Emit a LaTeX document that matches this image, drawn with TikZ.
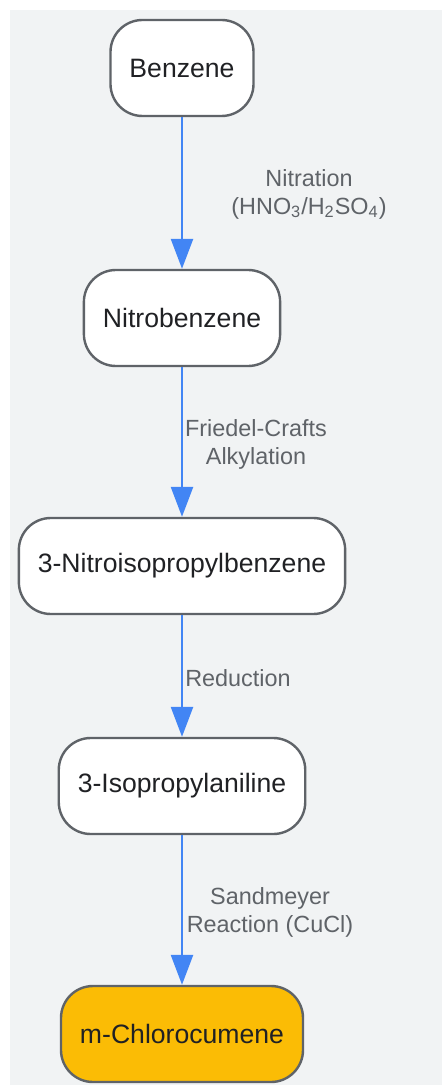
\documentclass[tikz,border=0pt]{standalone}
\usepackage{fontspec}
\setmainfont{Liberation Sans}
\usetikzlibrary{arrows.meta}
\definecolor{panel}{HTML}{F1F3F4}
\definecolor{edgeblue}{HTML}{4285F4}
\definecolor{boxline}{HTML}{5F6368}
\definecolor{boxtext}{HTML}{202124}
\definecolor{labeltext}{HTML}{5F6368}
\definecolor{goal}{HTML}{FBBC05}
\begin{document}
\begin{tikzpicture}[x=0.5pt, y=0.5pt,
  compound/.style={draw=boxline, line width=1.2pt, fill=white, rounded corners=16pt,
    minimum height=48pt, inner xsep=9.5pt, text=boxtext,
    font=\fontsize{13.3}{15}\selectfont},
  target/.style={compound, fill=goal},
  reagent/.style={text=labeltext, align=center,
    font=\fontsize{11.7}{14}\selectfont},
  step arrow/.style={-{Triangle[length=15pt, width=11pt]}, draw=edgeblue,
    fill=edgeblue, line width=1.3pt}]

\useasboundingbox (0,0) rectangle (442,-1085);
\fill [panel] (10,-10) rectangle (442,-1085);

\node [compound] (benzene) at (182,-68) {Benzene};
\node [compound] (nitro) at (182,-318) {Nitrobenzene};
\node [compound] (nitroiso) at (182,-566) {3-Nitroisopropylbenzene};
\node [compound] (aniline) at (182,-786) {3-Isopropylaniline};
\node [target] (cumene) at (182,-1034) {m-Chlorocumene};

\draw [step arrow] (benzene) -- (nitro);
\draw [step arrow] (nitro) -- (nitroiso);
\draw [step arrow] (nitroiso) -- (aniline);
\draw [step arrow] (aniline) -- (cumene);

\node [reagent] (nitration) at (309,-194)
  {Nitration\\(HNO\textsubscript{3}/H\textsubscript{2}SO\textsubscript{4})};
\node [reagent] (alkylation) at (256,-444) {Friedel-Crafts\\Alkylation};
\node [reagent] (reduction) at (238,-678) {Reduction};
\node [reagent] (sandmeyer) at (270,-912) {Sandmeyer\\Reaction (CuCl)};

\end{tikzpicture}
\end{document}
